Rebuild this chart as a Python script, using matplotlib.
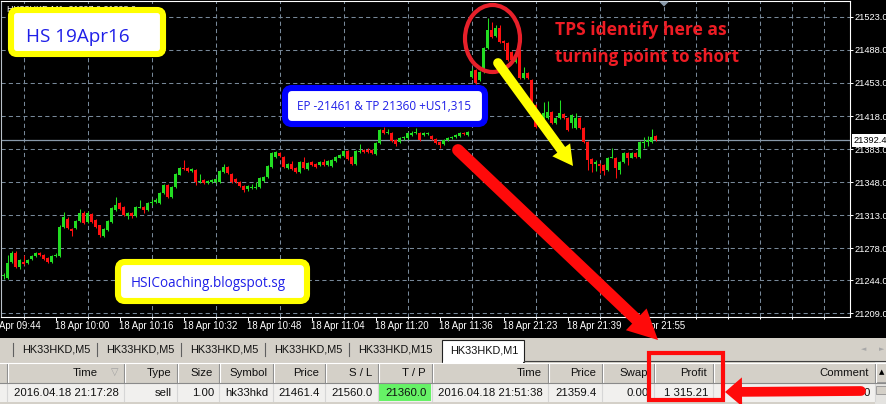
import numpy as np
import matplotlib
matplotlib.use("Agg")
import matplotlib.pyplot as plt
from matplotlib.patches import Rectangle, FancyBboxPatch, Ellipse, Polygon
from matplotlib.transforms import blended_transform_factory

plt.rcParams['font.family'] = ['Liberation Sans', 'DejaVu Sans']

W, H, DPI = 887, 404, 100

# ---- HK33HKD, M1 bars (18 Apr 2016) ----
opens = [21248, 21246, 21263, 21273, 21258, 21263, 21262, 21266, 21270, 21273, 21271, 21268, 21263, 21270,
         21270, 21300, 21309, 21298, 21299, 21307, 21315, 21306, 21314, 21308, 21302, 21291, 21297, 21306,
         21318, 21326, 21322, 21312, 21315, 21312, 21321, 21322, 21318, 21326, 21327, 21326, 21336, 21345,
         21332, 21343, 21356, 21363, 21363, 21360, 21361, 21348, 21350, 21347, 21348, 21348, 21348, 21359,
         21364, 21357, 21351, 21348, 21344, 21341, 21342, 21342, 21343, 21349, 21353, 21364, 21375, 21379,
         21375, 21363, 21367, 21363, 21359, 21369, 21362, 21369, 21367, 21366, 21369, 21366, 21365, 21370,
         21374, 21376, 21381, 21375, 21367, 21380, 21382, 21382, 21382, 21378, 21389, 21403, 21400, 21400,
         21393, 21390, 21395, 21395, 21398, 21400, 21400, 21398, 21399, 21397, 21394, 21390, 21388, 21393,
         21395, 21396, 21397, 21400, 21398, 21459, 21467, 21456, 21465, 21490, 21509, 21503, 21511, 21498,
         21495, 21486, 21475, 21488, 21458, 21464, 21456, 21430, 21406, 21416, 21416, 21422, 21411, 21416,
         21420, 21416, 21411, 21405, 21416, 21405, 21390, 21372, 21367, 21367, 21366, 21361, 21374, 21374,
         21361, 21369, 21379, 21374, 21379, 21375, 21389, 21390, 21390, 21397]
highs = [21252, 21271, 21275, 21275, 21266, 21271, 21266, 21271, 21274, 21274, 21272, 21269, 21271, 21273,
         21302, 21316, 21311, 21299, 21308, 21319, 21317, 21317, 21315, 21309, 21303, 21299, 21308, 21322,
         21332, 21327, 21323, 21316, 21316, 21323, 21329, 21323, 21327, 21330, 21331, 21337, 21346, 21346,
         21344, 21358, 21364, 21371, 21364, 21363, 21362, 21357, 21351, 21350, 21351, 21352, 21361, 21367,
         21365, 21358, 21352, 21349, 21345, 21345, 21346, 21348, 21353, 21354, 21366, 21380, 21381, 21380,
         21376, 21368, 21370, 21364, 21370, 21375, 21369, 21370, 21368, 21370, 21372, 21371, 21372, 21376,
         21378, 21382, 21382, 21376, 21382, 21388, 21383, 21384, 21383, 21390, 21404, 21406, 21404, 21401,
         21394, 21396, 21397, 21401, 21402, 21405, 21401, 21401, 21401, 21398, 21395, 21391, 21394, 21396,
         21397, 21399, 21401, 21401, 21402, 21469, 21468, 21466, 21491, 21522, 21518, 21514, 21514, 21499,
         21496, 21487, 21488, 21489, 21470, 21465, 21457, 21431, 21417, 21433, 21434, 21423, 21417, 21435,
         21421, 21417, 21420, 21421, 21417, 21406, 21391, 21373, 21371, 21368, 21367, 21375, 21384, 21375,
         21370, 21380, 21380, 21380, 21380, 21391, 21396, 21397, 21404, 21398]
lows = [21245, 21245, 21262, 21257, 21256, 21260, 21261, 21265, 21269, 21270, 21265, 21262, 21262, 21269,
        21269, 21299, 21298, 21291, 21298, 21306, 21304, 21305, 21305, 21299, 21290, 21290, 21296, 21305,
        21317, 21318, 21312, 21309, 21310, 21311, 21320, 21315, 21317, 21324, 21326, 21325, 21335, 21331,
        21331, 21342, 21355, 21361, 21359, 21359, 21345, 21347, 21346, 21346, 21347, 21347, 21347, 21358,
        21357, 21347, 21347, 21343, 21338, 21339, 21341, 21341, 21342, 21348, 21352, 21363, 21374, 21375,
        21363, 21362, 21361, 21358, 21358, 21362, 21361, 21365, 21363, 21365, 21365, 21365, 21364, 21369,
        21373, 21375, 21371, 21366, 21366, 21379, 21379, 21379, 21378, 21377, 21388, 21399, 21399, 21390,
        21386, 21389, 21393, 21394, 21397, 21399, 21392, 21397, 21398, 21393, 21388, 21384, 21387, 21392,
        21394, 21395, 21396, 21398, 21397, 21458, 21452, 21455, 21464, 21489, 21501, 21502, 21495, 21488,
        21476, 21474, 21474, 21457, 21457, 21457, 21429, 21405, 21405, 21415, 21415, 21410, 21410, 21415,
        21415, 21402, 21405, 21404, 21404, 21389, 21361, 21359, 21360, 21358, 21356, 21360, 21373, 21352,
        21357, 21368, 21366, 21373, 21374, 21374, 21384, 21386, 21389, 21391]
closes = [21249, 21262, 21273, 21258, 21265, 21261, 21265, 21270, 21273, 21271, 21266, 21263, 21270, 21271,
          21300, 21311, 21299, 21296, 21307, 21315, 21305, 21315, 21306, 21300, 21292, 21298, 21307, 21321,
          21324, 21319, 21313, 21315, 21312, 21322, 21322, 21318, 21326, 21327, 21329, 21336, 21345, 21332,
          21343, 21357, 21363, 21362, 21360, 21362, 21348, 21349, 21347, 21349, 21350, 21351, 21360, 21364,
          21358, 21348, 21348, 21344, 21340, 21344, 21343, 21343, 21352, 21353, 21365, 21379, 21380, 21376,
          21364, 21367, 21362, 21359, 21369, 21363, 21368, 21366, 21364, 21369, 21366, 21370, 21371, 21375,
          21377, 21381, 21372, 21367, 21381, 21381, 21380, 21380, 21379, 21389, 21403, 21400, 21401, 21391,
          21388, 21395, 21396, 21400, 21400, 21401, 21393, 21400, 21400, 21394, 21389, 21387, 21393, 21395,
          21396, 21398, 21400, 21399, 21401, 21466, 21453, 21465, 21490, 21509, 21502, 21511, 21496, 21495,
          21477, 21477, 21483, 21458, 21464, 21458, 21430, 21406, 21416, 21421, 21422, 21411, 21416, 21421,
          21416, 21403, 21419, 21416, 21405, 21390, 21371, 21367, 21369, 21365, 21360, 21374, 21375, 21363,
          21369, 21379, 21374, 21379, 21375, 21390, 21390, 21393, 21396, 21392.4]

grid_prices = [21523, 21488, 21453, 21418, 21383, 21348, 21313, 21278, 21244, 21209]
last_price = 21392.4
time_pos = [-1, 13, 29, 45, 61, 77, 93, 109, 125, 141, 157]
time_labels = ["Apr 09:44", "18 Apr 10:00", "18 Apr 10:16", "18 Apr 10:32", "18 Apr 10:48",
               "18 Apr 11:04", "18 Apr 11:20", "18 Apr 11:36", "18 Apr 21:23", "18 Apr 21:39",
               "18 Apr 21:55"]

tabs = ["HK33HKD,M5", "HK33HKD,M5", "HK33HKD,M5", "HK33HKD,M5", "HK33HKD,M15"]
active_tab = "HK33HKD,M1"
columns = ["Time", "Type", "Size", "Symbol", "Price", "S / L", "T / P",
           "Time", "Price", "Swap", "Profit", "Comment"]
trade = ["2016.04.18 21:17:28", "sell", "1.00", "hk33hkd", "21461.4", "21560.0", "21360.0",
         "2016.04.18 21:51:38", "21359.4", "0.00", "1 315.21", "0"]

title_text = "HS 19Apr16"
trade_note = "EP -21461 & TP 21360 +US1,315"
site_text = "HSICoaching.blogspot.sg"
tps_lines = ["TPS identify here as", "turning point to short"]

# ---------------------------------------------------------------------------
fig = plt.figure(figsize=(W / DPI, H / DPI), dpi=DPI)
fig.patch.set_facecolor("black")

# background layer in pixel coordinates (chart window + terminal panel)
bg = fig.add_axes([0, 0, 1, 1], zorder=0)
bg.set_xlim(0, W)
bg.set_ylim(H, 0)
bg.axis("off")
GREY = "#d4d0c8"
bg.add_patch(Rectangle((0, 0), W, 338, color="black", lw=0))
bg.add_patch(Rectangle((0, 338), W, 24, color=GREY, lw=0))
bg.add_patch(Rectangle((0, 362), W, 21, color=GREY, lw=0))
bg.add_patch(Rectangle((0, 383), W, 19, color="#f1f0ee", lw=0))
bg.add_patch(Rectangle((0, 402), W, 2, color=GREY, lw=0))

# tabs
tab_sep = [13, 97, 181, 265, 349]
for xs, name in zip(tab_sep, tabs):
    bg.plot([xs, xs], [343, 356], color="#606060", lw=0.8)
    bg.text(xs + 9, 349.5, name, fontsize=7.8, va="center", ha="left", color="#101010")
bg.plot([524, W], [361, 361], color="#404040", lw=0.8)
bg.add_patch(Rectangle((442, 340), 82, 22, facecolor="white", edgecolor="#202020", lw=0.8))
bg.add_patch(Rectangle((443, 360.5), 80, 3, facecolor="white", lw=0))
bg.text(450, 350.5, active_tab, fontsize=7.8, va="center", ha="left", color="#101010")
bg.text(864, 349, "\u25c4", fontsize=5, color="#a8a8a8", ha="center", va="center",
        family=["DejaVu Sans"])
bg.text(882, 349, "\u25ba", fontsize=5, color="#a8a8a8", ha="center", va="center",
        family=["DejaVu Sans"])

# order table
col_edges = [7, 124, 177, 219, 273, 325, 378, 432, 548, 602, 654, 713, 875]
for xe in col_edges:
    bg.plot([xe, xe], [363, 382], color="#8a8a8a", lw=0.8)
    bg.plot([xe + 1, xe + 1], [363, 382], color="white", lw=0.8)
    bg.plot([xe, xe], [384, 401], color="#d6d6d6", lw=0.8)
bg.plot([0, W], [362.5, 362.5], color="white", lw=0.8)
bg.plot([0, W], [382.5, 382.5], color="#8a8a8a", lw=0.8)
bg.add_patch(Rectangle((379, 384), 52, 17, color="#66f266", lw=0))
for i, (hdr, val) in enumerate(zip(columns, trade)):
    right = col_edges[i + 1]
    hx = 98 if i == 0 else right - 6
    bg.text(hx, 373, hdr, fontsize=8.2, ha="right", va="center", color="#101010")
    bg.text(right - 5, 392.5, val, fontsize=8.2, ha="right", va="center", color="#101010")
bg.text(115, 372, "\u25bd", fontsize=7, ha="center", va="center", color="#a0a0a0",
        family=["DejaVu Sans"])
bg.add_patch(Rectangle((875, 362), 12, 42, color="#e4e3e0", lw=0))
bg.add_patch(Rectangle((876, 363), 11, 19, facecolor=GREY, edgecolor="#909090", lw=0.6))
bg.text(881.5, 372.5, "\u25b2", fontsize=5, ha="center", va="center", color="black",
        family=["DejaVu Sans"])
bg.add_patch(Rectangle((876, 386), 11, 8, facecolor=GREY, edgecolor="#909090", lw=0.6))

# ---------------------------------------------------------------------------
# price chart
ax = fig.add_axes([1 / W, (H - 317) / H, 849 / W, 316 / H], zorder=1)
ax.set_facecolor("black")
n = len(closes)
x = np.arange(n)
o = np.array(opens, float)
c = np.array(closes, float)
hi = np.array(highs, float)
lo = np.array(lows, float)
bull = c >= o
cols = np.where(bull, "#22dd22", "#ff1010")
body_lo = np.minimum(o, c)
body_h = np.maximum(np.abs(c - o), 1.0)
ax.vlines(x, lo, hi, colors=cols, lw=0.75, zorder=3)
ax.bar(x, body_h, bottom=body_lo, width=0.75, color=cols, lw=0, zorder=4)

ax.set_xlim(-0.75, 211.5)
ax.set_ylim(21205.0, 21539.9)

grid_kw = dict(color="#778899", lw=0.75, linestyle=(0, (4, 3)))
ax.set_yticks(grid_prices)
ax.set_yticklabels([f"{p:.1f}" for p in grid_prices])
ax.yaxis.tick_right()
ax.tick_params(axis="y", colors="white", length=2.5, width=0.7, labelsize=6.7, pad=1.1)
major_x = [p for p in time_pos if p >= 0]
ax.set_xticks(major_x)
ax.set_xticklabels([])
ax.set_xticks(np.arange(5, 212, 8), minor=True)
ax.tick_params(axis="x", which="major", colors="white", length=3, width=0.7)
ax.tick_params(axis="x", which="minor", colors="white", length=1.5, width=0.7)
ax.grid(True, axis="y", **grid_kw)
ax.grid(True, axis="x", which="minor", **grid_kw)
ax.axhline(last_price, color="#8899aa", lw=0.9, zorder=2)
for s in ax.spines.values():
    s.set_color("white")
    s.set_linewidth(0.8)
ax.spines["left"].set_color("#b8c0c8")
ax.set_axisbelow(True)

# ---------------------------------------------------------------------------
# annotation layer in pixel coordinates
ov = fig.add_axes([0, 0, 1, 1], zorder=2)
ov.set_xlim(0, W)
ov.set_ylim(H, 0)
ov.axis("off")
ov.patch.set_alpha(0)

# time labels along the bottom axis
tx = blended_transform_factory(ax.transData, ov.transData)
for p, lab in zip(time_pos, time_labels):
    ov.text(p - 0.3, 326, lab, transform=tx, fontsize=6.9, color="white",
            ha="left", va="center", clip_on=False)

# current price tag
ty = blended_transform_factory(ov.transData, ax.transData)
ov.text(854, last_price, f"{last_price:.1f}", transform=ty, fontsize=6.7, color="black",
        ha="left", va="center",
        bbox=dict(boxstyle="square,pad=0.22", fc="white", ec="none"))

# chart shift marker
ov.add_patch(Polygon([(659, 1.5), (669, 1.5), (664, 6.5)], closed=True, color="#8899aa", lw=0))

# chart caption (mostly covered by the label box)
ov.text(7, 11.5, "HK33HKD,M1  21397.0 21398.0", fontsize=6.5, color="white",
        ha="left", va="baseline")

renderer = fig.canvas.get_renderer()


def fit_text(x0, x1, y, s, **kw):
    t = ov.text(x0, y, s, ha="left", va="baseline", **kw)
    w = t.get_window_extent(renderer=renderer).width
    t.set_fontsize(t.get_fontsize() * (x1 - x0) / w)
    return t


BLUE_TXT = "#1f1fe8"
SANS = ["Open Sans", "DejaVu Sans"]

ov.add_patch(FancyBboxPatch((11, 10), 152, 44, boxstyle="round,pad=0,rounding_size=6",
                            fc="white", ec="#ffff00", lw=4.4, zorder=5))
fit_text(26, 130, 42, title_text, fontsize=17, color=BLUE_TXT, family=SANS, zorder=6)

ov.add_patch(FancyBboxPatch((285, 88), 200, 36, boxstyle="round,pad=0,rounding_size=7",
                            fc="white", ec="#0000ff", lw=4.4, zorder=5))
fit_text(297, 470, 109.5, trade_note, fontsize=9, color=BLUE_TXT, family=SANS, zorder=6)

ov.add_patch(FancyBboxPatch((118, 262), 189, 39, boxstyle="round,pad=0,rounding_size=7",
                            fc="white", ec="#ffff00", lw=4.4, zorder=5))
fit_text(131, 286, 287, site_text, fontsize=11, color=BLUE_TXT, family=SANS, zorder=6)

RED = "#ee1c24"
fit_text(555, 725, 35, tps_lines[0], fontsize=13, color=RED, family=SANS,
         fontweight="bold", zorder=6)
fit_text(555, 737, 62, tps_lines[1], fontsize=13, color=RED, family=SANS,
         fontweight="bold", zorder=6)

ov.add_patch(Ellipse((492.5, 38.5), 55, 67, fill=False, ec="#e8202a", lw=3.0, zorder=6))


def arrow(p0, tip, width, head_len, head_half, color):
    p0 = np.array(p0, float)
    tip = np.array(tip, float)
    d = tip - p0
    u = d / np.hypot(*d)
    nrm = np.array([-u[1], u[0]])
    base = tip - head_len * u
    ov.plot([p0[0], base[0] + 2 * u[0]], [p0[1], base[1] + 2 * u[1]], color=color,
            lw=width, solid_capstyle="round", zorder=7)
    ov.add_patch(Polygon([tip, base + head_half * nrm, base - head_half * nrm],
                         closed=True, color=color, lw=0, zorder=7))


arrow((498, 63), (573, 166), 7.0, 20, 11, "#ffff00")
arrow((458, 150), (658, 340), 8.5, 30, 15, "#ff0a0a")
arrow((861, 391), (725, 392), 7.0, 17, 14.5, "#ff0a0a")

ov.add_patch(Rectangle((649.5, 352.5), 74, 47, fill=False, ec="#ff0a0a", lw=3.0, zorder=7))

fig.savefig("out.png", dpi=DPI, facecolor="black")
